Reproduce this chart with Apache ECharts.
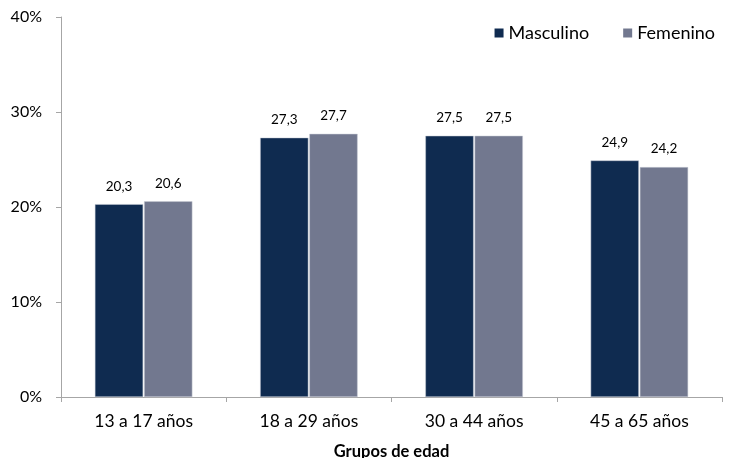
<!DOCTYPE html>
<html>
<head>
<meta charset="utf-8">
<script src="https://cdn.jsdelivr.net/npm/echarts@6/dist/echarts.min.js"></script>
<style>
  html, body { margin: 0; padding: 0; background: #fff; }
  #chart { width: 729px; height: 458px; }
</style>
</head>
<body>
<div id="chart"></div>
<script>
// Age groups and percentage values by sex
const categories = ['13 a 17 años', '18 a 29 años', '30 a 44 años', '45 a 65 años'];
const masculino = [20.3, 27.3, 27.5, 24.9];
const femenino = [20.6, 27.7, 27.5, 24.2];
const yTicks = [0, 10, 20, 30, 40];

const FONT = 'Lato, "Open Sans", sans-serif';

const chart = echarts.init(document.getElementById('chart'));

const labelOpt = {
  show: true,
  position: 'top',
  distance: 11,
  color: '#000',
  fontFamily: FONT,
  fontSize: 13.5,
  formatter: p => p.value.toFixed(1).replace('.', ',')
};

chart.setOption({
  animation: false,
  textStyle: { fontFamily: FONT },
  legend: {
    top: 19,
    right: 9,
    itemWidth: 9,
    itemHeight: 9,
    itemGap: 34,
    itemTextGap: 7,
    icon: 'rect',
    itemStyle: { borderWidth: 0 },
    textStyle: { fontFamily: FONT, fontSize: 18, color: '#000' },
    data: ['Masculino', 'Femenino']
  },
  grid: { left: 61, right: 7, top: 17, bottom: 61, outerBoundsMode: 'none', containLabel: false },
  xAxis: {
    type: 'category',
    data: categories,
    name: 'Grupos de edad',
    nameLocation: 'middle',
    nameGap: 46,
    nameTextStyle: { fontFamily: FONT, fontSize: 16.5, fontWeight: 'bold', color: '#000' },
    axisLine: { lineStyle: { color: '#a6a6a6' } },
    axisTick: { show: true, length: 5, lineStyle: { color: '#a6a6a6' } },
    axisLabel: { fontFamily: FONT, fontSize: 17.5, color: '#000', margin: 15 }
  },
  yAxis: {
    type: 'value',
    min: yTicks[0],
    max: yTicks[yTicks.length - 1],
    interval: 10,
    axisLine: { show: true, lineStyle: { color: '#a6a6a6' } },
    axisTick: { show: true, length: 5, lineStyle: { color: '#a6a6a6' } },
    splitLine: { show: false },
    axisLabel: { fontFamily: FONT, fontSize: 16, color: '#000', margin: 19, formatter: v => v + '%' }
  },
  series: [
    {
      name: 'Masculino',
      type: 'bar',
      data: masculino,
      barGap: '2%',
      barCategoryGap: '41%',
      itemStyle: { color: '#0f2b50', borderColor: '#c9ccd6', borderWidth: 0.5 },
      label: labelOpt
    },
    {
      name: 'Femenino',
      type: 'bar',
      data: femenino,
      itemStyle: { color: '#72788f', borderColor: '#c9ccd6', borderWidth: 0.5 },
      label: labelOpt
    }
  ]
});
</script>
</body>
</html>
